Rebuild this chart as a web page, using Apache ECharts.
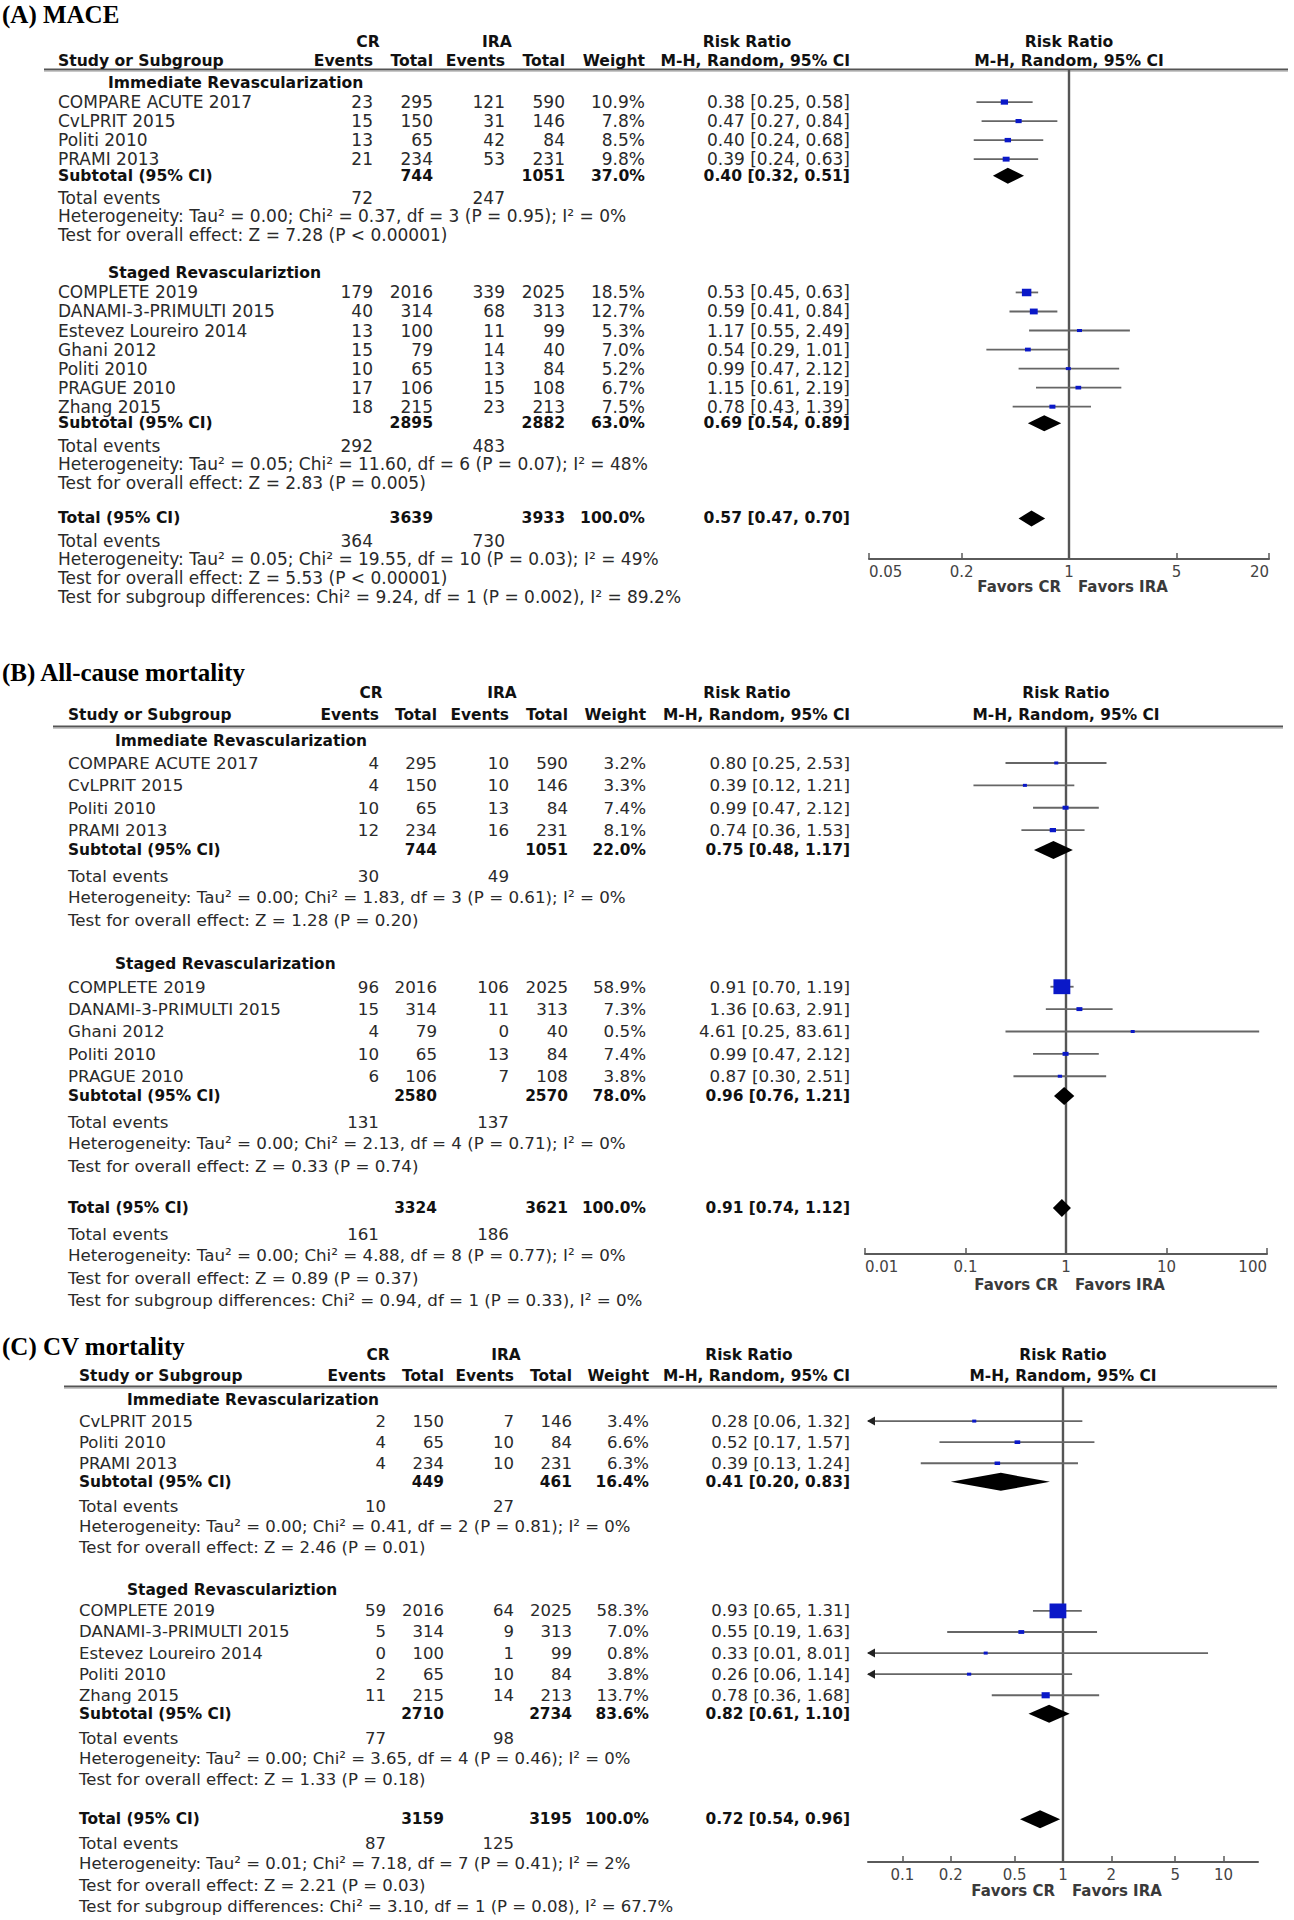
<!DOCTYPE html>
<html><head><meta charset="utf-8">
<script src="https://cdn.jsdelivr.net/npm/echarts@6/dist/echarts.min.js"></script>
<style>html,body{margin:0;padding:0;background:#fff}#c{width:1294px;height:1920px}</style>
</head><body><div id="c"></div><script>
// ---------------- DATA ----------------
const COL_GROUPS = ["CR", "IRA"];
const COL_HEADERS = ["Events", "Total", "Events", "Total", "Weight", "M-H, Random, 95% CI"];
const STUDY_HEADER = "Study or Subgroup";
const EFFECT_TITLE = "Risk Ratio";
const FOREST_HEADER = "M-H, Random, 95% CI";
const FAVORS = ["Favors CR", "Favors IRA"];

// Panel A: MACE   rows: [study, CR events, CR total, IRA events, IRA total, weight %, RR, lower, upper]
const A_TITLE = "(A) MACE";
const A_G1_NAME = "Immediate Revascularization";
const A_G1_ROWS = [
  ["COMPARE ACUTE 2017", 23, 295, 121, 590, 10.9, 0.38, 0.25, 0.58],
  ["CvLPRIT 2015", 15, 150, 31, 146, 7.8, 0.47, 0.27, 0.84],
  ["Politi 2010", 13, 65, 42, 84, 8.5, 0.40, 0.24, 0.68],
  ["PRAMI 2013", 21, 234, 53, 231, 9.8, 0.39, 0.24, 0.63]
];
const A_G1_SUBTOTAL = [744, 1051, 37.0, 0.40, 0.32, 0.51];
const A_G1_EVENTS = [72, 247];
const A_G1_STATS = ["Heterogeneity: Tau² = 0.00; Chi² = 0.37, df = 3 (P = 0.95); I² = 0%", "Test for overall effect: Z = 7.28 (P < 0.00001)"];
const A_G2_NAME = "Staged Revasculariztion";
const A_G2_ROWS = [
  ["COMPLETE 2019", 179, 2016, 339, 2025, 18.5, 0.53, 0.45, 0.63],
  ["DANAMI-3-PRIMULTI 2015", 40, 314, 68, 313, 12.7, 0.59, 0.41, 0.84],
  ["Estevez Loureiro 2014", 13, 100, 11, 99, 5.3, 1.17, 0.55, 2.49],
  ["Ghani 2012", 15, 79, 14, 40, 7.0, 0.54, 0.29, 1.01],
  ["Politi 2010", 10, 65, 13, 84, 5.2, 0.99, 0.47, 2.12],
  ["PRAGUE 2010", 17, 106, 15, 108, 6.7, 1.15, 0.61, 2.19],
  ["Zhang 2015", 18, 215, 23, 213, 7.5, 0.78, 0.43, 1.39]
];
const A_G2_SUBTOTAL = [2895, 2882, 63.0, 0.69, 0.54, 0.89];
const A_G2_EVENTS = [292, 483];
const A_G2_STATS = ["Heterogeneity: Tau² = 0.05; Chi² = 11.60, df = 6 (P = 0.07); I² = 48%", "Test for overall effect: Z = 2.83 (P = 0.005)"];
const A_TOTAL = [3639, 3933, 100.0, 0.57, 0.47, 0.70];
const A_TOTAL_EVENTS = [364, 730];
const A_TOTAL_STATS = ["Heterogeneity: Tau² = 0.05; Chi² = 19.55, df = 10 (P = 0.03); I² = 49%", "Test for overall effect: Z = 5.53 (P < 0.00001)", "Test for subgroup differences: Chi² = 9.24, df = 1 (P = 0.002), I² = 89.2%"];
const A_AXIS_RANGE = [0.05, 20];
const A_TICKS = [0.05, 0.2, 1, 5, 20];

// Panel B: All-cause mortality
const B_TITLE = "(B) All-cause mortality";
const B_G1_NAME = "Immediate Revascularization";
const B_G1_ROWS = [
  ["COMPARE ACUTE 2017", 4, 295, 10, 590, 3.2, 0.80, 0.25, 2.53],
  ["CvLPRIT 2015", 4, 150, 10, 146, 3.3, 0.39, 0.12, 1.21],
  ["Politi 2010", 10, 65, 13, 84, 7.4, 0.99, 0.47, 2.12],
  ["PRAMI 2013", 12, 234, 16, 231, 8.1, 0.74, 0.36, 1.53]
];
const B_G1_SUBTOTAL = [744, 1051, 22.0, 0.75, 0.48, 1.17];
const B_G1_EVENTS = [30, 49];
const B_G1_STATS = ["Heterogeneity: Tau² = 0.00; Chi² = 1.83, df = 3 (P = 0.61); I² = 0%", "Test for overall effect: Z = 1.28 (P = 0.20)"];
const B_G2_NAME = "Staged Revascularization";
const B_G2_ROWS = [
  ["COMPLETE 2019", 96, 2016, 106, 2025, 58.9, 0.91, 0.70, 1.19],
  ["DANAMI-3-PRIMULTI 2015", 15, 314, 11, 313, 7.3, 1.36, 0.63, 2.91],
  ["Ghani 2012", 4, 79, 0, 40, 0.5, 4.61, 0.25, 83.61],
  ["Politi 2010", 10, 65, 13, 84, 7.4, 0.99, 0.47, 2.12],
  ["PRAGUE 2010", 6, 106, 7, 108, 3.8, 0.87, 0.30, 2.51]
];
const B_G2_SUBTOTAL = [2580, 2570, 78.0, 0.96, 0.76, 1.21];
const B_G2_EVENTS = [131, 137];
const B_G2_STATS = ["Heterogeneity: Tau² = 0.00; Chi² = 2.13, df = 4 (P = 0.71); I² = 0%", "Test for overall effect: Z = 0.33 (P = 0.74)"];
const B_TOTAL = [3324, 3621, 100.0, 0.91, 0.74, 1.12];
const B_TOTAL_EVENTS = [161, 186];
const B_TOTAL_STATS = ["Heterogeneity: Tau² = 0.00; Chi² = 4.88, df = 8 (P = 0.77); I² = 0%", "Test for overall effect: Z = 0.89 (P = 0.37)", "Test for subgroup differences: Chi² = 0.94, df = 1 (P = 0.33), I² = 0%"];
const B_AXIS_RANGE = [0.01, 100];
const B_TICKS = [0.01, 0.1, 1, 10, 100];

// Panel C: CV mortality
const C_TITLE = "(C) CV mortality";
const C_G1_NAME = "Immediate Revascularization";
const C_G1_ROWS = [
  ["CvLPRIT 2015", 2, 150, 7, 146, 3.4, 0.28, 0.06, 1.32],
  ["Politi 2010", 4, 65, 10, 84, 6.6, 0.52, 0.17, 1.57],
  ["PRAMI 2013", 4, 234, 10, 231, 6.3, 0.39, 0.13, 1.24]
];
const C_G1_SUBTOTAL = [449, 461, 16.4, 0.41, 0.20, 0.83];
const C_G1_EVENTS = [10, 27];
const C_G1_STATS = ["Heterogeneity: Tau² = 0.00; Chi² = 0.41, df = 2 (P = 0.81); I² = 0%", "Test for overall effect: Z = 2.46 (P = 0.01)"];
const C_G2_NAME = "Staged Revasculariztion";
const C_G2_ROWS = [
  ["COMPLETE 2019", 59, 2016, 64, 2025, 58.3, 0.93, 0.65, 1.31],
  ["DANAMI-3-PRIMULTI 2015", 5, 314, 9, 313, 7.0, 0.55, 0.19, 1.63],
  ["Estevez Loureiro 2014", 0, 100, 1, 99, 0.8, 0.33, 0.01, 8.01],
  ["Politi 2010", 2, 65, 10, 84, 3.8, 0.26, 0.06, 1.14],
  ["Zhang 2015", 11, 215, 14, 213, 13.7, 0.78, 0.36, 1.68]
];
const C_G2_SUBTOTAL = [2710, 2734, 83.6, 0.82, 0.61, 1.10];
const C_G2_EVENTS = [77, 98];
const C_G2_STATS = ["Heterogeneity: Tau² = 0.00; Chi² = 3.65, df = 4 (P = 0.46); I² = 0%", "Test for overall effect: Z = 1.33 (P = 0.18)"];
const C_TOTAL = [3159, 3195, 100.0, 0.72, 0.54, 0.96];
const C_TOTAL_EVENTS = [87, 125];
const C_TOTAL_STATS = ["Heterogeneity: Tau² = 0.01; Chi² = 7.18, df = 7 (P = 0.41); I² = 2%", "Test for overall effect: Z = 2.21 (P = 0.03)", "Test for subgroup differences: Chi² = 3.10, df = 1 (P = 0.08), I² = 67.7%"];
const C_AXIS_RANGE = [0.061, 16.4];
const C_TICKS = [0.1, 0.2, 0.5, 1, 2, 5, 10];

// ---------------- LAYOUT ----------------
const FONT = '"DejaVu Sans", Verdana, sans-serif';
const SERIF = '"Liberation Serif", "Times New Roman", serif';
const TXT = '#2a2a2a';
const TXT_BOLD = '#111';
const BLUE = '#0a18c8';
const LAYOUTS = [
  {titleY: 14, h1: 42, h2: 61, rule: 70, ruleX: 44, ruleX2: 1288, y0: 83, L: 19.04, label: 58, sub: 108,
   cols: [373, 433, 505, 565, 645, 850], cr: 368, ira: 497, rr: 747, gl: 869, gr: 1269, axisY: 559, favY: 587,
   fs: 17, bfs: 15.6, dh: 16, alignEnds: true},
  {titleY: 672, h1: 693, h2: 715, rule: 727, ruleX: 53, ruleX2: 1283, y0: 740.6, L: 22.375, label: 68, sub: 115,
   cols: [379, 437, 509, 568, 646, 850], cr: 371, ira: 502, rr: 747, gl: 865, gr: 1267, axisY: 1254, favY: 1285,
   fs: 16.7, bfs: 15.4, dh: 18, alignEnds: true},
  {titleY: 1346, h1: 1355, h2: 1376, rule: 1387, ruleX: 64, ruleX2: 1277, y0: 1400, L: 21.09, label: 79, sub: 127,
   cols: [386, 444, 514, 572, 649, 850], cr: 378, ira: 506, rr: 749, gl: 868, gr: 1258, axisY: 1862, favY: 1891,
   fs: 16.5, bfs: 15.4, dh: 18, alignEnds: false}
];

const PANELS = [
  {title: A_TITLE, groups: [
    {name: A_G1_NAME, rows: A_G1_ROWS, sub: A_G1_SUBTOTAL, events: A_G1_EVENTS, stats: A_G1_STATS},
    {name: A_G2_NAME, rows: A_G2_ROWS, sub: A_G2_SUBTOTAL, events: A_G2_EVENTS, stats: A_G2_STATS}],
   total: A_TOTAL, totalEvents: A_TOTAL_EVENTS, totalStats: A_TOTAL_STATS, range: A_AXIS_RANGE, ticks: A_TICKS},
  {title: B_TITLE, groups: [
    {name: B_G1_NAME, rows: B_G1_ROWS, sub: B_G1_SUBTOTAL, events: B_G1_EVENTS, stats: B_G1_STATS},
    {name: B_G2_NAME, rows: B_G2_ROWS, sub: B_G2_SUBTOTAL, events: B_G2_EVENTS, stats: B_G2_STATS}],
   total: B_TOTAL, totalEvents: B_TOTAL_EVENTS, totalStats: B_TOTAL_STATS, range: B_AXIS_RANGE, ticks: B_TICKS},
  {title: C_TITLE, groups: [
    {name: C_G1_NAME, rows: C_G1_ROWS, sub: C_G1_SUBTOTAL, events: C_G1_EVENTS, stats: C_G1_STATS},
    {name: C_G2_NAME, rows: C_G2_ROWS, sub: C_G2_SUBTOTAL, events: C_G2_EVENTS, stats: C_G2_STATS}],
   total: C_TOTAL, totalEvents: C_TOTAL_EVENTS, totalStats: C_TOTAL_STATS, range: C_AXIS_RANGE, ticks: C_TICKS}
];

// ---------------- BUILD ----------------
const graphics = [];
function T(x, y, text, o) {
  o = o || {};
  const al = o.align || 'left';
  graphics.push({type: 'text', x: x, y: y, silent: true, z: 10, style: {
    text: String(text), fill: o.color || (o.bold ? TXT_BOLD : TXT), fontFamily: o.family || FONT, fontSize: o.size || 16,
    fontWeight: o.bold ? 'bold' : 'normal', align: al, textAlign: al, verticalAlign: 'middle', textVerticalAlign: 'middle'}});
}
function LINE(x1, y1, x2, y2, color, w) {
  graphics.push({type: 'line', silent: true, shape: {x1: x1, y1: y1, x2: x2, y2: y2}, style: {stroke: color, lineWidth: w}});
}
const fmtW = w => w.toFixed(1) + '%';
const fmtCI = (r, l, h) => r.toFixed(2) + ' [' + l.toFixed(2) + ', ' + h.toFixed(2) + ']';

const grids = [], xAxes = [], yAxes = [], series = [];

PANELS.forEach((D, i) => {
  const P = LAYOUTS[i];
  const fs = P.fs, bfs = P.bfs;
  const cx = (P.gl + P.gr) / 2;
  const ys = s => P.y0 + s * P.L;
  T(2, P.titleY, D.title, {family: SERIF, size: 25, bold: true, color: '#000'});
  T(P.cr, P.h1, COL_GROUPS[0], {bold: true, align: 'center', size: bfs});
  T(P.ira, P.h1, COL_GROUPS[1], {bold: true, align: 'center', size: bfs});
  T(P.rr, P.h1, EFFECT_TITLE, {bold: true, align: 'center', size: bfs});
  T(cx, P.h1, EFFECT_TITLE, {bold: true, align: 'center', size: bfs});
  T(P.label, P.h2, STUDY_HEADER, {bold: true, size: bfs});
  COL_HEADERS.forEach((h, k) => T(P.cols[k], P.h2, h, {bold: true, align: 'right', size: bfs}));
  T(cx, P.h2, FOREST_HEADER, {bold: true, align: 'center', size: bfs});
  LINE(P.ruleX, P.rule - 0.5, P.ruleX2, P.rule - 0.5, '#555', 2);
  LINE(P.ruleX, P.rule + 1.5, P.ruleX2, P.rule + 1.5, '#c8c8c8', 1);

  const items = [];
  let s = 0;
  const subOff = -2.5 / P.L;
  const summaryRow = (label, arr, slot) => {
    const y = ys(slot) - 2.5;
    T(P.label, y, label, {bold: true, size: bfs});
    T(P.cols[1], y, arr[0], {bold: true, align: 'right', size: bfs});
    T(P.cols[3], y, arr[1], {bold: true, align: 'right', size: bfs});
    T(P.cols[4], y, fmtW(arr[2]), {bold: true, align: 'right', size: bfs});
    T(P.cols[5], y, fmtCI(arr[3], arr[4], arr[5]), {bold: true, align: 'right', size: bfs});
    items.push([arr[3], arr[4], arr[5], slot + subOff, arr[2], 1]);
  };
  const eventsRow = (ev, slot) => {
    const y = ys(slot) + 1;
    T(P.label, y, 'Total events', {size: fs});
    T(P.cols[0], y, ev[0], {align: 'right', size: fs});
    T(P.cols[2], y, ev[1], {align: 'right', size: fs});
  };
  D.groups.forEach(g => {
    T(P.sub, ys(s), g.name, {bold: true, size: bfs}); s++;
    g.rows.forEach(r => {
      const y = ys(s);
      T(P.label, y, r[0], {size: fs});
      [r[1], r[2], r[3], r[4]].forEach((v, k) => T(P.cols[k], y, v, {align: 'right', size: fs}));
      T(P.cols[4], y, fmtW(r[5]), {align: 'right', size: fs});
      T(P.cols[5], y, fmtCI(r[6], r[7], r[8]), {align: 'right', size: fs});
      items.push([r[6], r[7], r[8], s, r[5], 0]);
      s++;
    });
    summaryRow('Subtotal (95% CI)', g.sub, s); s++;
    eventsRow(g.events, s); s++;
    g.stats.forEach(t => { T(P.label, ys(s), t, {size: fs}); s++; });
    s++;
  });
  summaryRow('Total (95% CI)', D.total, s); s++;
  eventsRow(D.totalEvents, s); s++;
  D.totalStats.forEach(t => { T(P.label, ys(s), t, {size: fs}); s++; });

  T(cx - 8, P.favY, FAVORS[0], {bold: true, align: 'right', size: 15, color: '#3a3a3a'});
  T(cx + 9, P.favY, FAVORS[1], {bold: true, align: 'left', size: 15, color: '#3a3a3a'});

  const yMin = (P.rule - P.y0) / P.L, yMax = (P.axisY - P.y0) / P.L;
  grids.push({left: P.gl, top: P.rule, width: P.gr - P.gl, height: P.axisY - P.rule, containLabel: false});
  const lab = {show: true, customValues: D.ticks, margin: 5, fontSize: 15, fontFamily: FONT, color: '#444',
      formatter: v => String(Number(Number(v).toPrecision(6)))};
  if (P.alignEnds) { lab.alignMinLabel = 'left'; lab.alignMaxLabel = 'right'; }
  xAxes.push({
    type: 'log', logBase: 10, gridIndex: i, min: D.range[0], max: D.range[1], position: 'bottom',
    axisLine: {show: true, onZero: false, lineStyle: {color: '#5a5a5a', width: 2}},
    axisTick: {show: true, inside: true, length: 6, customValues: D.ticks, lineStyle: {color: '#5a5a5a', width: 1.5}},
    minorTick: {show: false},
    axisLabel: lab,
    splitLine: {show: false}
  });
  yAxes.push({type: 'value', gridIndex: i, inverse: true, min: yMin, max: yMax, show: false,
    splitLine: {show: false}, axisLine: {show: false}, axisTick: {show: false}, axisLabel: {show: false}});

  series.push({
    type: 'line', xAxisIndex: i, yAxisIndex: i, data: [[1, yMin], [1, yMax]], showSymbol: false, symbol: 'none',
    silent: true, animation: false, lineStyle: {color: '#555', width: 2.4}, z: 3
  });
  const axMin = D.range[0], axMax = D.range[1], dh = P.dh;
  series.push({
    type: 'custom', xAxisIndex: i, yAxisIndex: i, data: items, clip: false, animation: false, silent: true, z: 5,
    renderItem: (params, api) => {
      const rr = api.value(0), lo = api.value(1), hi = api.value(2), yv = api.value(3), w = api.value(4), kind = api.value(5);
      const cs = params.coordSys;
      const y = api.coord([1, yv])[1];
      const xr = api.coord([rr, yv])[0];
      const xl = api.coord([Math.max(lo, axMin), yv])[0];
      const xh = api.coord([Math.min(hi, axMax), yv])[0];
      const ch = [];
      if (kind === 1) {
        ch.push({type: 'polygon', shape: {points: [[xl, y], [xr, y - dh / 2], [xh, y], [xr, y + dh / 2]]}, style: {fill: '#000'}});
      } else {
        ch.push({type: 'line', shape: {x1: xl, y1: y, x2: xh, y2: y}, style: {stroke: '#666', lineWidth: 1.8}});
        if (lo < axMin) ch.push({type: 'polygon', shape: {points: [[cs.x - 1, y], [cs.x + 7, y - 4.5], [cs.x + 7, y + 4.5]]}, style: {fill: '#222'}});
        if (hi > axMax) ch.push({type: 'polygon', shape: {points: [[cs.x + cs.width + 1, y], [cs.x + cs.width - 7, y - 4.5], [cs.x + cs.width - 7, y + 4.5]]}, style: {fill: '#222'}});
        const sw = Math.max(4, 2.2 * Math.sqrt(w));
        const sh = Math.max(3, 2.2 * Math.sqrt(w) - 2);
        ch.push({type: 'rect', shape: {x: xr - sw / 2, y: y - sh / 2, width: sw, height: sh}, style: {fill: BLUE}});
      }
      return {type: 'group', children: ch};
    }
  });
});

const chart = echarts.init(document.getElementById('c'), null, {renderer: 'svg', width: 1294, height: 1920});
chart.setOption({
  backgroundColor: '#fff',
  animation: false,
  grid: grids, xAxis: xAxes, yAxis: yAxes, series: series,
  graphic: {elements: graphics}
});
</script></body></html>
